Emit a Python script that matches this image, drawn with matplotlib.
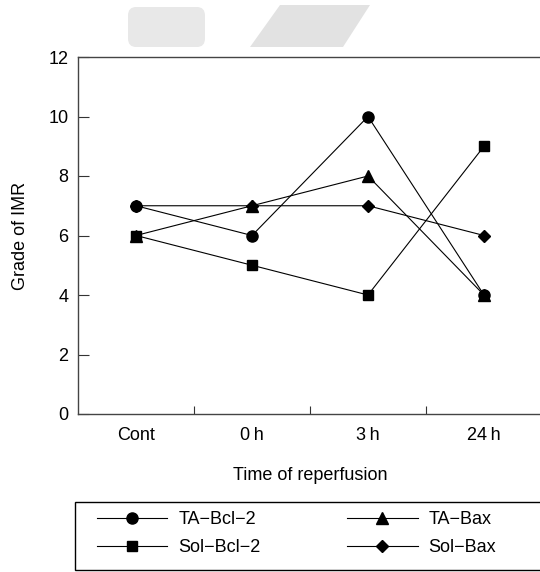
# Grade of IMR vs time of reperfusion

import matplotlib
matplotlib.use('Agg')
import matplotlib.pyplot as plt
from matplotlib.patches import FancyBboxPatch, Polygon, Rectangle
import numpy as np

plt.rcParams['font.family'] = ['Liberation Sans', 'DejaVu Sans']

times = ['Cont', '0\u2009h', '3\u2009h', '24\u2009h']
ta_bcl2  = [7, 6, 10, 4]
ta_bax   = [6, 7, 8, 4]
sol_bcl2 = [6, 5, 4, 9]
sol_bax  = [7, 7, 7, 6]

x = np.arange(len(times))
fs = 13

fig = plt.figure(figsize=(5.4, 5.72), dpi=100)

# grey watermark shapes at the top
fig.patches.append(FancyBboxPatch((128/540, 1-47/572), 77/540, 40/572,
                   boxstyle='round,pad=0,rounding_size=0.015',
                   transform=fig.transFigure, fc='#e8e8e8', ec='none', zorder=0))
fig.patches.append(Polygon([(280/540, 1-5/572), (370/540, 1-5/572),
                            (343/540, 1-47/572), (250/540, 1-47/572)],
                   closed=True, transform=fig.transFigure, fc='#e2e2e2', ec='none', zorder=0))

ax = fig.add_axes([78/540, 1-414/572, 464/540, 357/572])

kw = dict(color='black', lw=0.8, clip_on=False)
ax.plot(x, ta_bcl2,  marker='o', ms=8,   label='TA\u2212Bcl\u22122', **kw)
ax.plot(x, ta_bax,   marker='^', ms=8,   label='TA\u2212Bax', **kw)
ax.plot(x, sol_bcl2, marker='s', ms=6.5, label='Sol\u2212Bcl\u22122', **kw)
ax.plot(x, sol_bax,  marker='D', ms=6.3, label='Sol\u2212Bax', **kw)

ax.set_xlim(-0.5, 3.5)
ax.set_ylim(0, 12)
ax.set_yticks(np.arange(0, 13, 2))
ax.set_xticks(x)
ax.set_xticklabels(times)
ax.set_xticks([0.5, 1.5, 2.5], minor=True)
ax.tick_params(axis='x', which='major', length=0, pad=9, labelsize=fs)
ax.tick_params(axis='x', which='minor', direction='in', length=6, width=0.8, color='#333333')
ax.tick_params(axis='y', direction='in', length=8, width=0.8, color='#333333', pad=7, labelsize=fs)

for s in ['left', 'bottom', 'top']:
    ax.spines[s].set_color('#444444')
    ax.spines[s].set_linewidth(1)
ax.spines['right'].set_visible(False)

ax.set_xlabel('Time of reperfusion', fontsize=fs, labelpad=17)
ax.set_ylabel('Grade of IMR', fontsize=fs, labelpad=14)

# legend frame runs off the right edge, as in the source figure
fig.patches.append(Rectangle((75/540, 1-570/572), 475/540, 68/572,
                   transform=fig.transFigure, fc='white', ec='black', lw=1, zorder=1))

h, l = ax.get_legend_handles_labels()
order = [0, 2, 1, 3]
leg = fig.legend([h[i] for i in order], [l[i] for i in order], ncol=2,
                 loc='upper left', bbox_to_anchor=(97/540, 1-511/572),
                 fontsize=fs, handlelength=3.9, handletextpad=0.6,
                 borderaxespad=0, borderpad=0, labelspacing=0.6,
                 columnspacing=4.8, frameon=False)

plt.savefig('out.png', dpi=100)
